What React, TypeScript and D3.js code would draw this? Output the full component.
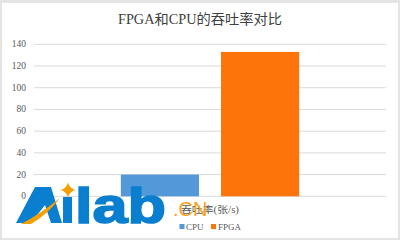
import React from "react";
import * as d3 from "d3";

// Chart data
const categories = ["吞吐率(张/s)"];
const seriesNames = ["CPU", "FPGA"];
const seriesValues = [20, 133];
const yTicks = [0, 20, 40, 60, 80, 100, 120, 140];
const seriesColors = ["#5398d8", "#fc740a"];

const W = 400;
const H = 240;
const plotLeft = 34;
const plotRight = 386;
const plotTop = 44.3;
const plotBottom = 196.3;

const serif = "Liberation Serif, Times New Roman, Noto Sans CJK SC, serif";

export default function App() {
  const y = d3.scaleLinear().domain([0, 140]).range([plotBottom, plotTop]);
  const x0 = d3
    .scaleBand<string>()
    .domain(categories)
    .range([plotLeft, plotRight])
    .paddingInner(0)
    .paddingOuter(0.487);
  const x1 = d3
    .scaleBand<string>()
    .domain(seriesNames)
    .range([0, x0.bandwidth()])
    .paddingInner(0.22)
    .paddingOuter(0);

  const cat = categories[0];
  const catCenter = (x0(cat) ?? 0) + x0.bandwidth() / 2;

  // four-point star used as the dot of the logo "i"
  const star = (cx: number, cy: number, r: number, k: number) =>
    `M${cx},${cy - r} Q${cx + k},${cy - k} ${cx + r},${cy} Q${cx + k},${cy + k} ${cx},${cy + r} Q${cx - k},${cy + k} ${cx - r},${cy} Q${cx - k},${cy - k} ${cx},${cy - r} Z`;

  return (
    <svg
      width={W}
      height={H}
      style={{ position: "absolute", left: 0, top: 0 }}
      xmlns="http://www.w3.org/2000/svg"
    >
      <rect x={0} y={0} width={W} height={H} fill="#e4e4e4" />
      <rect x={2} y={3} width={396} height={235} fill="#ffffff" />

      <text
        x={200}
        y={23.5}
        textAnchor="middle"
        style={{ fontFamily: serif }}
        fontSize={14}
        fill="#404040"
        textLength={164}
        lengthAdjust="spacingAndGlyphs"
      >
        FPGA和CPU的吞吐率对比
      </text>

      {yTicks.map((t) => (
        <g key={t}>
          <line
            x1={plotLeft}
            x2={plotRight}
            y1={y(t)}
            y2={y(t)}
            stroke="#d9d9d9"
            strokeWidth={1}
          />
          <text
            x={26}
            y={y(t) + 3}
            textAnchor="end"
            style={{ fontFamily: serif }}
            fontSize={9.5}
            fill="#595959"
          >
            {t}
          </text>
        </g>
      ))}

      {seriesNames.map((s, i) => (
        <rect
          key={s}
          x={(x0(cat) ?? 0) + (x1(s) ?? 0)}
          y={y(seriesValues[i])}
          width={x1.bandwidth()}
          height={y(0) - y(seriesValues[i])}
          fill={seriesColors[i]}
        />
      ))}

      <text
        x={catCenter}
        y={212.5}
        textAnchor="middle"
        style={{ fontFamily: serif }}
        fontSize={9.5}
        fill="#595959"
        textLength={58}
        lengthAdjust="spacingAndGlyphs"
      >
        {cat}
      </text>

      {/* legend */}
      <g>
        <rect x={179.5} y={224} width={5} height={5} fill={seriesColors[0]} />
        <text x={186} y={230} style={{ fontFamily: serif }} fontSize={9} fill="#595959">
          {seriesNames[0]}
        </text>
        <rect x={211} y={224} width={5} height={5} fill={seriesColors[1]} />
        <text x={218} y={230} style={{ fontFamily: serif }} fontSize={9} fill="#595959">
          {seriesNames[1]}
        </text>
      </g>

      {/* Ailab.CN logo */}
      <g>
        <path d="M16,223 L35,187 L51,187 L62,223 L51,223 L45,205 L31,223 Z" fill="#0a7ecf" />
        <path d="M21,224 Q40,214 60,198 Q48,214 31,224 Z" fill="#f5a000" />
        <rect x={63} y={197} width={9} height={26} fill="#0a7ecf" />
        <path d={star(68, 190, 7.5, 1.5)} fill="#f5a000" />
        <text
          x={75}
          y={223}
          fontFamily="Liberation Sans, Arial, sans-serif"
          fontWeight="bold"
          fontSize={50}
          fill="#0a7ecf"
          stroke="#0a7ecf"
          strokeWidth={1.6}
          textLength={91}
          lengthAdjust="spacingAndGlyphs"
        >
          lab
        </text>
        <text
          x={173}
          y={216}
          fontFamily="Liberation Sans, Arial, sans-serif"
          fontSize={20}
          fill="#f7a21c"
        >
          .CN
        </text>
      </g>
    </svg>
  );
}
